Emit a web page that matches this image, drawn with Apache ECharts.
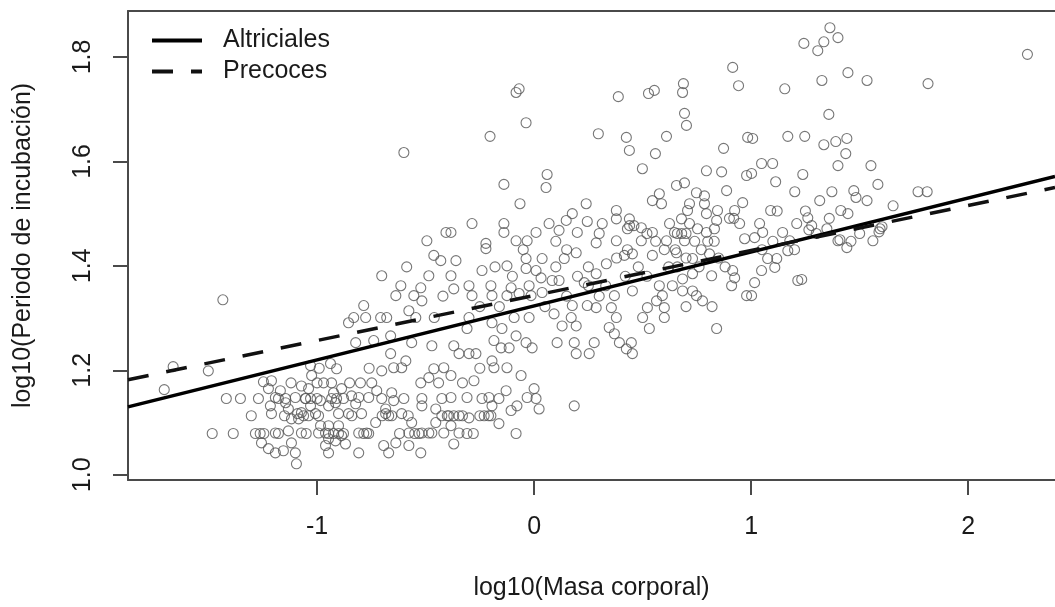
<!DOCTYPE html>
<html>
<head>
<meta charset="utf-8">
<script src="https://cdn.jsdelivr.net/npm/echarts@6/dist/echarts.min.js"></script>
<style>
  html, body { margin: 0; padding: 0; background: #fff; }
  #chart { width: 1055px; height: 607px; }
</style>
</head>
<body>
<div id="chart"></div>
<script>
// log10(masa corporal), log10(periodo de incubación)
const puntos = [
  [-1.434,1.335],[-1.663,1.207],[-1.501,1.199],[-1.704,1.163],[-1.418,1.146],[-1.353,1.146],[-1.483,1.079],[-1.386,1.079],
  [-1.303,1.113],[-1.270,1.146],[-1.284,1.079],[-1.247,1.178],[-1.210,1.180],[-1.224,1.165],[-1.215,1.132],[-1.210,1.117],
  [-1.192,1.148],[-1.178,1.079],[-1.192,1.080],[-1.256,1.061],[-1.224,1.050],[-1.192,1.042],[-1.155,1.046],[-1.118,1.061],
  [-1.100,1.042],[-1.095,1.021],[-1.072,1.119],[-1.085,1.107],[-1.145,1.138],[-1.132,1.126],[-1.100,1.148],[-1.072,1.170],
  [-1.053,1.146],[-1.030,1.132],[-1.039,1.165],[-1.025,1.190],[-1.030,1.209],[-0.938,1.213],[-0.910,1.203],[-1.007,1.117],
  [-0.984,1.094],[-0.961,1.080],[-0.947,1.069],[-0.947,1.042],[-0.915,1.065],[-0.887,1.075],[-0.869,1.059],[-0.933,1.176],
  [-0.924,1.157],[-0.887,1.165],[-0.878,1.146],[-0.915,1.138],[-0.947,1.132],[-0.901,1.117],[-0.855,1.117],[-0.822,1.136],
  [-0.841,1.151],[-0.808,1.148],[-0.795,1.117],[-0.808,1.080],[-0.771,1.080],[-0.808,1.042],[-0.748,1.176],[-0.725,1.161],
  [-0.762,1.148],[-0.702,1.146],[-0.656,1.157],[-0.647,1.142],[-0.684,1.126],[-0.656,1.113],[-0.610,1.117],[-0.564,1.100],
  [-0.577,1.080],[-0.517,1.080],[-0.485,1.080],[-0.693,1.056],[-0.637,1.061],[-0.670,1.042],[-0.577,1.056],[-0.522,1.042],
  [-0.730,1.100],[-0.702,1.199],[-0.647,1.205],[-0.610,1.205],[-0.591,1.218],[-0.661,1.232],[-0.661,1.266],[-0.637,1.343],
  [-0.614,1.362],[-0.702,1.381],[-0.587,1.398],[-0.554,1.343],[-0.522,1.358],[-0.517,1.333],[-0.485,1.381],[-0.462,1.420],
  [-0.577,1.314],[-0.545,1.301],[-0.679,1.301],[-0.707,1.301],[-0.785,1.324],[-0.776,1.301],[-0.831,1.301],[-0.855,1.291],
  [-0.822,1.253],[-0.739,1.257],[-0.564,1.253],[-0.471,1.247],[-0.462,1.203],[-0.485,1.186],[-0.522,1.176],[-0.517,1.146],
  [-0.517,1.132],[-0.453,1.126],[-0.453,1.100],[-0.471,1.080],[-1.118,1.107],[-1.039,1.113],[-0.984,1.142],[-0.993,1.113],
  [-0.947,1.094],[-0.901,1.094],[-1.132,1.084],[-1.072,1.080],[-0.993,1.080],[-0.961,1.056],[-1.169,1.161],
  [-1.178,1.146],[-1.145,1.146],[-1.090,1.117],[-1.062,1.113],[-0.947,1.079],[-0.924,1.079],[-0.901,1.079],[-0.878,1.079],
  [-0.785,1.079],[-0.762,1.079],[-0.684,1.117],[-0.670,1.113],[-0.550,1.079],[-0.530,1.079],[-0.933,1.146],[-0.910,1.146],
  [-1.053,1.146],[-1.030,1.146],[-1.000,1.146],[-1.262,1.079],[-1.245,1.079],[-0.840,1.113],[-0.700,1.113],[-1.000,1.176],
  [-0.970,1.176],[-0.850,1.176],[-0.800,1.176],[-1.120,1.176],[-0.600,1.146],[-0.580,1.113],[-0.620,1.079],[-1.050,1.079],
  [-1.150,1.113],[-0.760,1.204],[-0.990,1.204],
  [-0.222,1.433],[-0.360,1.410],[-0.430,1.410],[-0.383,1.381],[-0.240,1.391],[-0.125,1.400],[-0.037,1.414],[0.037,1.414],
  [0.139,1.414],[0.194,1.425],[-0.037,1.395],[0.009,1.391],[0.032,1.377],[-0.023,1.362],[-0.106,1.358],[-0.199,1.362],
  [-0.300,1.362],[-0.370,1.356],[-0.286,1.343],[-0.194,1.343],[-0.125,1.343],[-0.069,1.347],[-0.014,1.343],[0.037,1.349],
  [0.083,1.372],[0.115,1.372],[0.231,1.368],[0.286,1.385],[0.333,1.404],[0.416,1.420],[0.453,1.423],[0.545,1.420],
  [0.656,1.425],[0.730,1.414],[0.808,1.423],[0.915,1.391],[0.924,1.377],[0.910,1.362],[0.818,1.381],[0.730,1.385],
  [0.684,1.375],[0.637,1.362],[0.577,1.362],[0.591,1.343],[0.564,1.333],[0.522,1.320],[0.600,1.320],[0.600,1.301],
  [0.531,1.280],[0.453,1.352],[0.684,1.352],[0.730,1.352],[0.748,1.343],[0.776,1.333],[0.841,1.280],[0.979,1.343],
  [0.370,1.343],[0.356,1.320],[0.379,1.301],[0.346,1.282],[0.370,1.270],[0.393,1.253],[0.448,1.253],[0.425,1.241],
  [0.453,1.232],[0.245,1.324],[0.286,1.320],[0.176,1.324],[0.171,1.301],[0.194,1.285],[0.129,1.285],[0.092,1.308],
  [0.106,1.253],[0.185,1.253],[0.277,1.253],[0.194,1.232],[0.254,1.232],[-0.023,1.301],[-0.092,1.301],[-0.194,1.291],
  [-0.148,1.280],[-0.309,1.280],[-0.370,1.247],[-0.346,1.232],[-0.300,1.232],[-0.268,1.232],[-0.185,1.257],[-0.152,1.243],
  [-0.115,1.243],[-0.083,1.266],[-0.037,1.253],[-0.009,1.243],[-0.194,1.218],[-0.185,1.205],[-0.125,1.205],[-0.416,1.205],
  [-0.383,1.190],[-0.277,1.180],[-0.060,1.190],[-0.129,1.161],[-0.162,1.146],[-0.208,1.148],[-0.309,1.148],[-0.383,1.148],
  [-0.425,1.146],[-0.194,1.132],[-0.079,1.132],[-0.106,1.123],[-0.032,1.148],[0.000,1.165],[0.009,1.146],[0.023,1.126],
  [0.185,1.132],[-0.199,1.113],[-0.162,1.098],[-0.300,1.109],[-0.346,1.113],[-0.393,1.113],[-0.425,1.113],[-0.383,1.094],
  [-0.346,1.080],[-0.309,1.079],[-0.416,1.080],[-0.370,1.059],[-0.083,1.079],
  [-0.400,1.113],[-0.370,1.113],[-0.330,1.113],[-0.250,1.113],[-0.230,1.113],[-0.210,1.113],[-0.240,1.146],[-0.280,1.079],
  [-0.250,1.204],[-0.330,1.176],[-0.440,1.176],[-0.300,1.301],[-0.250,1.322],[-0.160,1.322],[0.050,1.322],[0.150,1.342],
  [0.250,1.362],[0.300,1.342],[0.330,1.362],[0.420,1.380],[0.480,1.398],[0.520,1.380],[0.620,1.398],[0.660,1.398],
  [0.700,1.415],[0.760,1.398],[0.850,1.415],[0.880,1.398],[0.560,1.447],[0.600,1.431],[0.650,1.431],[0.700,1.462],
  [0.740,1.447],[0.770,1.431],[0.430,1.431],[0.380,1.415],[0.250,1.398],[0.200,1.380],[0.100,1.398],[-0.100,1.380],
  [-0.180,1.398],[0.700,1.322],[0.820,1.322],[0.500,1.301],[-0.420,1.342],[-0.460,1.301],
  [1.169,1.429],[1.118,1.414],[1.076,1.414],[1.109,1.397],[1.048,1.391],[1.016,1.368],[1.002,1.343],[1.215,1.372],[1.441,1.435],
  [-0.083,1.732],[-0.069,1.739],[-0.037,1.674],[-0.203,1.648],[0.296,1.653],[0.388,1.724],[0.527,1.730],[0.554,1.736],
  [0.688,1.749],[0.684,1.732],[0.693,1.692],[0.702,1.669],[0.915,1.780],[0.942,1.745],[0.425,1.646],[0.439,1.621],
  [0.559,1.615],[0.610,1.648],[0.499,1.586],[0.873,1.625],[0.794,1.582],[0.864,1.580],[0.979,1.573],[0.984,1.646],
  [0.887,1.544],[0.961,1.521],[0.924,1.506],[-0.139,1.556],[-0.065,1.519],[0.060,1.575],[0.055,1.550],[0.240,1.519],
  [0.176,1.500],[0.148,1.487],[0.245,1.485],[-0.286,1.481],[-0.139,1.481],[-0.139,1.464],[-0.406,1.464],[-0.383,1.464],
  [-0.083,1.448],[-0.032,1.448],[0.009,1.464],[0.069,1.481],[0.115,1.468],[0.199,1.464],[0.314,1.481],[0.379,1.506],
  [0.379,1.490],[0.439,1.490],[0.430,1.471],[0.494,1.473],[0.545,1.464],[0.624,1.481],[0.647,1.464],[0.545,1.525],
  [0.577,1.538],[0.587,1.519],[0.656,1.554],[0.693,1.559],[0.748,1.540],[0.785,1.534],[0.716,1.519],[0.707,1.506],
  [0.785,1.519],[0.794,1.500],[0.845,1.506],[0.841,1.487],[0.679,1.490],[0.716,1.481],[0.753,1.471],[0.794,1.464],
  [0.831,1.471],[0.947,1.481],[0.970,1.452],[0.610,1.448],[0.693,1.448],[0.494,1.448],[0.379,1.448],[0.286,1.444],
  [-0.222,1.443],[-0.600,1.617],[-0.494,1.448],
  [0.440,1.477],[0.460,1.477],[0.660,1.462],[0.680,1.462],[0.900,1.491],[0.920,1.491],[0.800,1.447],[0.830,1.447],
  [0.520,1.462],[0.300,1.462],[0.100,1.447],[0.150,1.431],[-0.050,1.431],
  [1.363,1.856],[1.400,1.837],[1.335,1.829],[1.307,1.812],[1.243,1.826],[1.446,1.770],[1.326,1.755],[1.534,1.755],
  [1.155,1.739],[1.815,1.749],[2.273,1.805],[1.358,1.690],[1.007,1.644],[1.169,1.648],[1.247,1.648],[1.335,1.632],
  [1.390,1.638],[1.441,1.644],[1.436,1.615],[1.048,1.596],[1.099,1.596],[1.400,1.592],[1.552,1.592],[1.002,1.577],
  [1.113,1.561],[1.238,1.575],[1.201,1.542],[1.372,1.542],[1.584,1.556],[1.473,1.544],[1.483,1.531],[1.534,1.525],
  [1.316,1.525],[1.769,1.542],[1.811,1.542],[1.654,1.515],[1.090,1.506],[1.413,1.506],[1.446,1.500],[1.261,1.492],
  [1.039,1.481],[1.210,1.481],[1.279,1.477],[1.145,1.464],[1.016,1.454],[1.053,1.464],[1.349,1.471],[1.400,1.448],
  [1.561,1.448],[1.594,1.471],[1.178,1.448],[1.589,1.465],[1.603,1.475],[1.409,1.450],[1.266,1.469],[1.233,1.374],
  [1.050,1.431],[1.100,1.447],[1.200,1.431],[1.300,1.462],[1.120,1.505],[1.360,1.491],[1.250,1.505],[1.500,1.462],[1.460,1.447]
];

// rectas ajustadas (extremos en los bordes del eje x)
const rectaAltriciales = [[-1.871, 1.130], [2.4, 1.571]];
const rectaPrecoces = [[-1.871, 1.182], [2.4, 1.550]];

const ticksX = [-1, 0, 1, 2];
const ticksY = [1.0, 1.2, 1.4, 1.6, 1.8];
const rangoX = [-1.871, 2.4];
const rangoY = [0.990, 1.888];

const fuente = "'Liberation Sans', Arial, sans-serif";
const colorEje = '#4a4a4a';
const colorTexto = '#1a1a1a';

const chart = echarts.init(document.getElementById('chart'), null, { renderer: 'canvas' });

const option = {
  animation: false,
  backgroundColor: '#fff',
  textStyle: { fontFamily: fuente },
  grid: { left: 128, top: 11, right: 0, bottom: 127 },
  legend: {
    data: ['Altriciales', 'Precoces'],
    orient: 'vertical',
    left: 150,
    top: 28,
    padding: 0,
    itemWidth: 50,
    itemHeight: 14,
    itemGap: 6,
    itemStyle: { color: 'transparent', borderColor: 'transparent', borderWidth: 0 },
    lineStyle: { width: 4 },
    textStyle: {
      fontFamily: fuente,
      fontSize: 25,
      lineHeight: 25,
      color: colorTexto,
      padding: [0, 0, 0, 16],
    },
  },
  xAxis: [
    {
      type: 'value',
      min: rangoX[0],
      max: rangoX[1],
      position: 'bottom',
      name: 'log10(Masa corporal)',
      nameLocation: 'middle',
      nameGap: 96,
      nameTextStyle: { fontFamily: fuente, fontSize: 25, color: colorTexto },
      axisLine: { show: true, onZero: false, lineStyle: { color: colorEje, width: 2 } },
      axisTick: { show: true, length: 15, customValues: ticksX, lineStyle: { color: colorEje, width: 2 } },
      axisLabel: {
        customValues: ticksX,
        margin: 35,
        fontFamily: fuente,
        fontSize: 25,
        color: colorTexto,
      },
      splitLine: { show: false },
    },
    {
      type: 'value',
      min: rangoX[0],
      max: rangoX[1],
      position: 'top',
      axisLine: { show: true, onZero: false, lineStyle: { color: colorEje, width: 2 } },
      axisTick: { show: false },
      axisLabel: { show: false },
      splitLine: { show: false },
    },
  ],
  yAxis: {
    type: 'value',
    min: rangoY[0],
    max: rangoY[1],
    name: 'log10(Periodo de incubación)',
    nameLocation: 'middle',
    nameGap: 92,
    nameTextStyle: { fontFamily: fuente, fontSize: 25, color: colorTexto },
    axisLine: { show: true, onZero: false, lineStyle: { color: colorEje, width: 2 } },
    axisTick: { show: true, length: 15, customValues: ticksY, lineStyle: { color: colorEje, width: 2 } },
    axisLabel: {
      customValues: ticksY,
      rotate: 90,
      margin: 32,
      fontFamily: fuente,
      fontSize: 25,
      color: colorTexto,
      formatter: v => v.toFixed(1),
    },
    splitLine: { show: false },
  },
  series: [
    {
      name: 'puntos',
      type: 'scatter',
      data: puntos,
      symbol: 'circle',
      symbolSize: 10,
      itemStyle: { color: 'transparent', borderColor: '#555', borderWidth: 1.1 },
      z: 2,
    },
    {
      name: 'Altriciales',
      type: 'line',
      data: rectaAltriciales,
      symbol: 'none',
      showSymbol: false,
      lineStyle: { color: '#000', width: 3.5, type: 'solid' },
      z: 3,
    },
    {
      name: 'Precoces',
      type: 'line',
      data: rectaPrecoces,
      symbol: 'none',
      showSymbol: false,
      lineStyle: { color: '#111', width: 3.5, type: [21, 18] },
      z: 3,
    },
  ],
};

chart.setOption(option);
</script>
</body>
</html>
